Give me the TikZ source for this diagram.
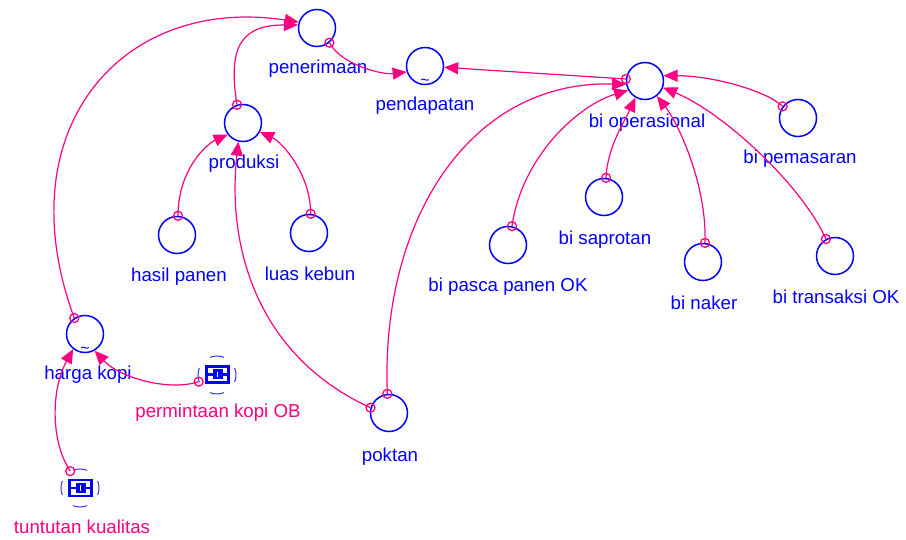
\documentclass[tikz,border=0pt]{standalone}
\usepackage{fontspec}
\setmainfont{Liberation Sans}
\usetikzlibrary{arrows.meta}
\definecolor{vblue}{RGB}{0,0,255}
\definecolor{vmag}{RGB}{255,0,128}
\begin{document}
\begin{tikzpicture}[x=1pt,y=-1pt,
  var/.style={circle, draw=vblue, line width=1.5pt, minimum size=37pt, inner sep=0pt},
  lbl/.style={text=vblue, font=\fontsize{18.7}{20}\selectfont, inner sep=0pt},
  mlbl/.style={text=vmag, font=\fontsize{18.7}{20}\selectfont, inner sep=0pt},
  tld/.style={text=vblue, font=\fontsize{16}{16}\selectfont, inner sep=0pt},
  conn/.style={draw=vmag, line width=1.2pt, -{Triangle[length=14pt,width=12pt]}},
  sc/.style={draw=vmag, line width=1.3pt},
  ghost/.style={circle, draw=vblue!80, line width=1pt, minimum size=38pt, inner sep=0pt,
    dash pattern=on 14.5pt off 15.3pt, dash phase=7.25pt},
  lookupicon/.pic={
    \draw[vblue, line width=2.6pt] (-11,-8) rectangle (11,8);
    \draw[vblue, line width=2.8pt] (-10,0) -- (10,0);
    \fill[vblue] (-5,-5) rectangle (5,5);
    \draw[white, line width=1.3pt] (0,-2.8) -- (0,2.8);
  },
]
\useasboundingbox (0,0) rectangle (906,540);

% variables
\node[var] (pen)  at (317,28) {};
\node[var] (pend) at (425,66) {};
\node[var] (prod) at (243,123) {};
\node[var] (bo)   at (645,81) {};
\node[var] (bpem) at (798,118) {};
\node[var] (hp)   at (177,235) {};
\node[var] (lk)   at (309,233) {};
\node[var] (bsap) at (604,197) {};
\node[var] (bpp)  at (508,245) {};
\node[var] (bnak) at (703,262) {};
\node[var] (btr)  at (835,256) {};
\node[var] (hk)   at (85,334) {};
\node[var] (pok)  at (389,413) {};
\node[ghost] (pkob) at (217,375) {};
\node[ghost] (tk)   at (80,488) {};
\pic at (217.5,374.5) {lookupicon};
\pic at (80.5,488) {lookupicon};

% tildes
\node[tld] (tpend) at (425,82) {\textasciitilde};
\node[tld] (thk)   at (85,350) {\textasciitilde};

% labels
\node[lbl] (lpen)  at (318,69)  {penerimaan};
\node[lbl] (lpend) at (425,106) {pendapatan};
\node[lbl] (lprod) at (244,164) {produksi};
\node[lbl] (lbo)   at (647,123) {bi operasional};
\node[lbl] (lbpem) at (800,159) {bi pemasaran};
\node[lbl] (lbsap) at (605,240) {bi saprotan};
\node[lbl] (lbpp)  at (508,287) {bi pasca panen OK};
\node[lbl] (lbnak) at (704,303) {bi naker};
\node[lbl] (lbtr)  at (836,297) {bi transaksi OK};
\node[lbl] (lhp)   at (179,277) {hasil panen};
\node[lbl] (llk)   at (310,274) {luas kebun};
\node[lbl] (lhk)   at (88,375)  {harga kopi};
\node[mlbl] (lpkob) at (218,413) {permintaan kopi OB};
\node[lbl] (lpok)  at (390,457) {poktan};
\node[mlbl] (ltk)  at (82,527)  {tuntutan kualitas};

% connectors
\draw[conn] (hk.124) .. controls +(-69,-188) and +(-178,-27) .. (pen.162);
\draw[sc] (hk.124) circle[radius=4.5pt];

\draw[conn] (prod.108) .. controls +(-10,-60) and +(-55,0) .. (pen.171);
\draw[sc] (prod.108) circle[radius=4.5pt];

\draw[conn] (pen.-50) .. controls +(12,22) and +(-25,3) .. (pend.198);
\draw[sc] (pen.-50) circle[radius=4.5pt];

\draw[conn] (bo.174) -- (pend.-4);
\draw[sc] (bo.174) circle[radius=4.5pt];

\draw[conn] (hp.87) .. controls +(0,-45) and +(-22,10) .. (prod.217);
\draw[sc] (hp.87) circle[radius=4.5pt];

\draw[conn] (lk.85) .. controls +(0,-40) and +(22,10) .. (prod.-28);
\draw[sc] (lk.85) circle[radius=4.5pt];

\draw[conn] (pok.164) .. controls +(-110,-50) and +(-12,110) .. (prod.256);
\draw[sc] (pok.164) circle[radius=4.5pt];

\draw[conn] (pok.95) .. controls +(-7,-174) and +(-156,-4) .. (bo.190);
\draw[sc] (pok.95) circle[radius=4.5pt];

\draw[conn] (bpp.78) .. controls +(10,-70) and +(-50,15) .. (bo.209);
\draw[sc] (bpp.78) circle[radius=4.5pt];

\draw[conn] (bsap.84) .. controls +(1,-30) and +(-10,22) .. (bo.240);
\draw[sc] (bsap.84) circle[radius=4.5pt];

\draw[conn] (bnak.84) .. controls +(2,-60) and +(20,25) .. (bo.-52);
\draw[sc] (bnak.84) circle[radius=4.5pt];

\draw[conn] (btr.118) .. controls +(-25,-55) and +(60,25) .. (bo.-20);
\draw[sc] (btr.118) circle[radius=4.5pt];

\draw[conn] (bpem.143) .. controls +(-15,-15) and +(50,0) .. (bo.16);
\draw[sc] (bpem.143) circle[radius=4.5pt];

\draw[conn] (pkob.200) .. controls +(-30,10) and +(25,27) .. (hk.-60);
\draw[sc] (pkob.200) circle[radius=4.5pt];

\draw[conn] (tk.120) .. controls +(-20,-30) and +(-22,40) .. (hk.232);
\draw[sc] (tk.120) circle[radius=4.5pt];
\end{tikzpicture}
\end{document}
